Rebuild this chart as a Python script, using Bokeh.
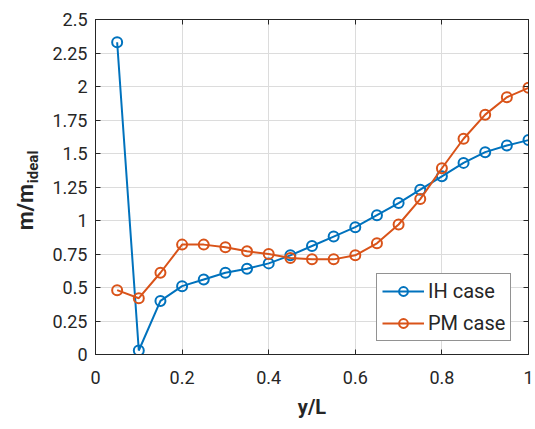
import math
from bokeh.plotting import figure
from bokeh.layouts import row
from bokeh.models import (FixedTicker, LinearAxis, Range1d, Legend, LegendItem,
                          CustomLabelingPolicy)
from bokeh.embed import file_html
from bokeh.resources import INLINE
from bokeh.core.properties import value

# ---- data ----
y_over_L = [0.05, 0.10, 0.15, 0.20, 0.25, 0.30, 0.35, 0.40, 0.45, 0.50,
            0.55, 0.60, 0.65, 0.70, 0.75, 0.80, 0.85, 0.90, 0.95, 1.00]
ih_case = [2.33, 0.03, 0.40, 0.51, 0.56, 0.61, 0.64, 0.68, 0.74, 0.81,
           0.88, 0.95, 1.04, 1.13, 1.23, 1.33, 1.43, 1.51, 1.56, 1.60]
pm_case = [0.48, 0.42, 0.61, 0.82, 0.82, 0.80, 0.77, 0.75, 0.72, 0.71,
           0.71, 0.74, 0.83, 0.97, 1.16, 1.39, 1.61, 1.79, 1.92, 1.99]
series_names = ["IH case", "PM case"]
x_ticks = [0, 0.2, 0.4, 0.6, 0.8, 1.0]
x_tick_labels = ["0", "0.2", "0.4", "0.6", "0.8", "1"]
y_ticks = [0, 0.25, 0.5, 0.75, 1.0, 1.25, 1.5, 1.75, 2.0, 2.25, 2.5]
y_tick_labels = ["0", "0.25", "0.5", "0.75", "1", "1.25", "1.5", "1.75", "2", "2.25", "2.5"]
x_label = "y/L"
y_label_main = "m/m"
y_label_sub = "ideal"

BLUE = "#0072BD"
ORANGE = "#D95319"
DARK = "#262626"
FONT = "Roboto"
H = 421
LW = 42
TOP, BOTTOM = 19, 67

p = figure(width=535 - LW, height=H, output_backend="svg", toolbar_location=None,
           x_range=Range1d(0, 1), y_range=Range1d(0, 2.5),
           min_border_left=95 - LW, min_border_right=7,
           min_border_top=TOP, min_border_bottom=BOTTOM)
p.background_fill_color = "white"
p.border_fill_color = "white"
p.outline_line_color = DARK
p.outline_line_width = 1

def style_axis(ax, ticks, labels):
    ax.ticker = FixedTicker(ticks=ticks)
    ax.major_label_overrides = {t: l for t, l in zip(ticks, labels)}
    ax.axis_line_color = DARK
    ax.major_tick_line_color = DARK
    ax.major_tick_in = 5
    ax.major_tick_out = 0
    ax.minor_tick_line_color = None
    ax.major_label_text_font = FONT
    ax.major_label_text_font_size = "18px"
    ax.major_label_text_color = DARK

style_axis(p.xaxis[0], x_ticks, x_tick_labels)
style_axis(p.yaxis[0], y_ticks, y_tick_labels)
p.xaxis.major_label_standoff = 16
p.yaxis.major_label_standoff = 8
p.xaxis.axis_label = x_label
p.xaxis.axis_label_text_font = FONT
p.xaxis.axis_label_text_font_size = "20px"
p.xaxis.axis_label_text_font_style = "bold"
p.xaxis.axis_label_text_color = DARK
p.xaxis.axis_label_standoff = 8

# mirrored ticks on top and right (no labels)
no_labels = CustomLabelingPolicy(code="for (const i of Array.from(indices)) indices.unset(i); return indices")
for loc, ticks in (("above", x_ticks), ("right", y_ticks)):
    ax = LinearAxis()
    ax.ticker = FixedTicker(ticks=ticks)
    ax.axis_line_color = DARK
    ax.major_tick_line_color = DARK
    ax.major_tick_in = 5
    ax.major_tick_out = 0
    ax.minor_tick_line_color = None
    ax.major_label_policy = no_labels
    ax.major_label_text_font_size = "0px"
    ax.major_label_standoff = 0
    p.add_layout(ax, loc)

p.xgrid.ticker = FixedTicker(ticks=x_ticks)
p.ygrid.ticker = FixedTicker(ticks=y_ticks)
p.grid.grid_line_color = "#dcdcdc"
p.grid.grid_line_width = 1

r1l = p.line(y_over_L, ih_case, line_color=BLUE, line_width=2)
r1m = p.scatter(y_over_L, ih_case, marker="circle", size=10, fill_color=None,
                line_color=BLUE, line_width=2)
r2l = p.line(y_over_L, pm_case, line_color=ORANGE, line_width=2)
r2m = p.scatter(y_over_L, pm_case, marker="circle", size=10, fill_color=None,
                line_color=ORANGE, line_width=2)

legend = Legend(items=[LegendItem(label=series_names[0], renderers=[r1l, r1m]),
                       LegendItem(label=series_names[1], renderers=[r2l, r2m])],
                location=(281, 13))
legend.label_text_font = FONT
legend.label_text_font_size = "20px"
legend.label_text_color = DARK
legend.border_line_color = DARK
legend.border_line_width = 1
legend.background_fill_alpha = 1
legend.glyph_width = 42
legend.glyph_height = 22
legend.label_height = 22
legend.label_standoff = 4
legend.spacing = 8
legend.padding = 5
legend.margin = 0
p.add_layout(legend, "center")

# narrow panel holding the y-axis label (with subscript); shares the y scale of p
lf = figure(width=LW, height=H, output_backend="svg", toolbar_location=None,
            x_range=Range1d(0, LW), y_range=p.y_range,
            x_axis_type=None, y_axis_type=None, title=None,
            min_border=0, min_border_left=0, min_border_right=0,
            min_border_top=TOP, min_border_bottom=BOTTOM)
lf.grid.visible = False
lf.outline_line_color = None
lf.border_fill_color = "white"
lf.background_fill_color = "white"
lf.text(x=[24.5], y=[1.10], text=[y_label_main], angle=math.pi / 2,
        text_align="center", text_baseline="middle",
        text_font=value(FONT), text_font_size="22px", text_font_style="bold",
        text_color=DARK)
lf.text(x=[32], y=[1.40], text=[y_label_sub], angle=math.pi / 2,
        text_align="center", text_baseline="middle",
        text_font=value(FONT), text_font_size="15px", text_font_style="bold",
        text_color=DARK)

layout = row(lf, p, spacing=0)
open("out.html", "w").write(file_html(layout, INLINE))
